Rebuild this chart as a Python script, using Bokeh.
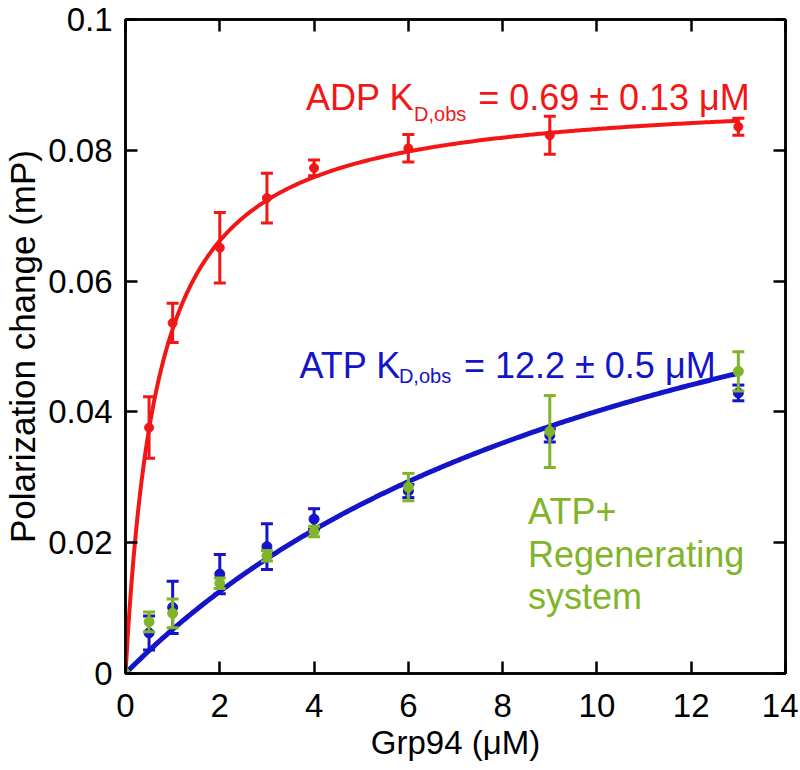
import numpy as np
from bokeh.plotting import figure
from bokeh.models import (Range1d, LinearAxis, FixedTicker, Label,
                          CustomJSTickFormatter, ColumnDataSource)
from bokeh.embed import file_html
from bokeh.resources import INLINE

# ---- data ----
grp94 = [0, 0.5, 1, 2, 3, 4, 6, 9, 13]
adp_y = [0, 0.0376, 0.0536, 0.0651, 0.0727, 0.0773, 0.0803, 0.0823, 0.0836]
adp_err = [0, 0.0047, 0.0030, 0.0054, 0.0038, 0.0012, 0.0021, 0.0029, 0.0013]
atp_y = [0, 0.0062, 0.0101, 0.0152, 0.0194, 0.0236, 0.0279, 0.0364, 0.0429]
atp_err = [0, 0.0026, 0.0040, 0.0030, 0.0035, 0.0016, 0.0010, 0.0010, 0.0012]
regen_y = [0, 0.0079, 0.0092, 0.0138, 0.0180, 0.0217, 0.0285, 0.0370, 0.0462]
regen_err = [0, 0.0015, 0.0022, 0.0008, 0.0008, 0.0008, 0.0021, 0.0055, 0.0030]

# fit parameters (hyperbolic binding, Kd from the chart labels)
ADP_KD, ADP_BMAX = 0.69, 0.089
ATP_KD, ATP_BMAX = 12.2, 0.089
FIT_XMAX = 13

x_ticks = [0, 2, 4, 6, 8, 10, 12, 14]
y_ticks = [0, 0.02, 0.04, 0.06, 0.08, 0.1]

RED = "#f21616"
BLUE = "#1414c8"
GREEN = "#80b42a"
FONT = "Liberation Sans"

p = figure(width=798, height=766, output_backend="svg", toolbar_location=None,
           x_range=Range1d(0, 14), y_range=Range1d(0, 0.1),
           min_border_left=124, min_border_right=13, min_border_top=19,
           min_border_bottom=93)
p.grid.visible = False
p.outline_line_color = "black"
p.outline_line_width = 2.5
p.background_fill_color = "white"
p.border_fill_color = "white"

def style_axis(ax, ticks, show_labels):
    ax.ticker = FixedTicker(ticks=ticks)
    ax.minor_tick_line_color = None
    ax.major_tick_in = 12
    ax.major_tick_out = 0
    ax.major_tick_line_width = 2.5
    ax.major_tick_line_color = "black"
    ax.axis_line_width = 2.5
    ax.axis_line_color = "black"
    ax.major_label_text_font = FONT
    ax.major_label_text_color = "black"
    if show_labels:
        ax.major_label_text_font_size = "33px"
    else:
        ax.formatter = CustomJSTickFormatter(code="return '';")
        ax.major_label_text_font_size = "8px"
        ax.major_label_standoff = 0

xa = p.xaxis[0]
ya = p.yaxis[0]
style_axis(xa, x_ticks, True)
style_axis(ya, y_ticks, True)
ya.formatter = CustomJSTickFormatter(code="return tick.toString();")
ya.major_label_text_font_size = "33px"
xa.major_label_standoff = 20
ya.major_label_standoff = 13
xa.axis_label = "Grp94 (\u03bcM)"
ya.axis_label = "Polarization change (mP)"
for ax in (xa, ya):
    ax.axis_label_text_font = FONT
    ax.axis_label_text_font_style = "normal"
    ax.axis_label_text_color = "black"
xa.axis_label_text_font_size = "33px"
ya.axis_label_text_font_size = "35px"
xa.axis_label_standoff = 4
ya.axis_label_standoff = 3

top_ax = LinearAxis()
right_ax = LinearAxis()
style_axis(top_ax, x_ticks, False)
style_axis(right_ax, y_ticks, False)
p.add_layout(top_ax, "above")
p.add_layout(right_ax, "right")

# ---- fit curves ----
xs = np.linspace(0, FIT_XMAX, 300)
p.line(xs, ADP_BMAX * xs / (ADP_KD + xs), line_color=RED, line_width=4)
p.line(xs, ATP_BMAX * xs / (ATP_KD + xs), line_color=BLUE, line_width=5)

def series(y, err, color, size):
    lo = [a - e for a, e in zip(y, err)]
    hi = [a + e for a, e in zip(y, err)]
    src = ColumnDataSource(dict(x=grp94, y=y, lo=lo, hi=hi))
    p.segment(x0="x", y0="lo", x1="x", y1="hi", source=src,
              line_color=color, line_width=3)
    p.scatter(x="x", y="lo", marker="dash", size=12, source=src,
              line_color=color, line_width=3)
    p.scatter(x="x", y="hi", marker="dash", size=12, source=src,
              line_color=color, line_width=3)
    p.scatter(x="x", y="y", marker="circle", size=size, source=src,
              fill_color=color, line_color=color)

series(adp_y, adp_err, RED, 9)
series(atp_y, atp_err, BLUE, 10)
series(regen_y, regen_err, GREEN, 10)

# ---- annotations ----
def lab(x, y, text, color, size):
    p.add_layout(Label(x=x, y=y, text=text, text_color=color,
                       text_font=FONT, text_font_size=size,
                       text_baseline="alphabetic", text_align="left"))

lab(3.83, 0.0880, "ADP K", RED, "36px")
lab(6.12, 0.0856, "D,obs", RED, "20px")
lab(7.48, 0.0880, "= 0.69 \u00b1 0.13 \u03bcM", RED, "36px")

lab(3.69, 0.0471, "ATP K", BLUE, "36px")
lab(5.80, 0.0455, "D,obs", BLUE, "20px")
lab(7.18, 0.0471, "= 12.2 \u00b1 0.5 \u03bcM", BLUE, "36px")

lab(8.54, 0.0248, "ATP+", GREEN, "36px")
lab(8.54, 0.0182, "Regenerating", GREEN, "36px")
lab(8.54, 0.0118, "system", GREEN, "36px")

open("out.html", "w").write(file_html(p, INLINE))
